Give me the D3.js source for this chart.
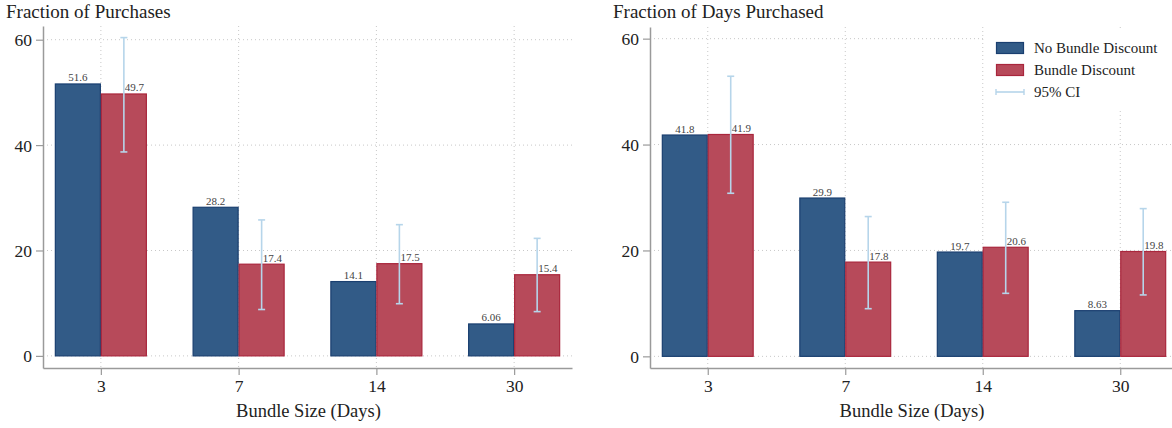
<!DOCTYPE html>
<html>
<head>
<meta charset="utf-8">
<script src="https://cdn.jsdelivr.net/npm/d3@7"></script>
<style>
  html, body { margin: 0; padding: 0; background: #fff; }
  svg, svg text { font-family: "Liberation Serif", "Times New Roman", serif; }
</style>
</head>
<body>
<svg id="chart" width="1172" height="428"></svg>
<script>
// Bundle sizes (days) on the x axis
const categories = ["3", "7", "14", "30"];
const seriesNames = ["No Bundle Discount", "Bundle Discount"];
const yTicks = [0, 20, 40, 60];

// Panel 1: fraction of purchases
const purchasesNoDiscount = [51.6, 28.2, 14.1, 6.06];
const purchasesDiscount = [49.7, 17.4, 17.5, 15.4];
const purchasesCiLow = [38.7, 8.8, 9.9, 8.4];
const purchasesCiHigh = [60.4, 25.8, 24.9, 22.3];

// Panel 2: fraction of days purchased
const daysNoDiscount = [41.8, 29.9, 19.7, 8.63];
const daysDiscount = [41.9, 17.8, 20.6, 19.8];
const daysCiLow = [30.8, 9.0, 11.9, 11.6];
const daysCiHigh = [52.9, 26.4, 29.1, 27.9];

const colors = {
  blueFill: "#325b87", blueStroke: "#1a3f70",
  redFill: "#b74a5a", redStroke: "#a9263c",
  ci: "#b6d5ea", axis: "#9a9a9a", grid: "#c8c8c8", text: "#222", label: "#444"
};
const serif = "'Liberation Serif', 'Times New Roman', serif";

const svg = d3.select("#chart");

function drawPanel(opts) {
  const g = svg.append("g");
  const x = d3.scalePoint().domain(categories).range([opts.x0, opts.x1]).padding(0.42);
  const y = d3.scaleLinear().domain(opts.yDomain).range([368, opts.yTop]);
  const step = x.step();
  const bw = step * 0.334;

  // dotted grid
  g.selectAll(".hgrid").data(yTicks).join("line")
    .attr("x1", opts.x0).attr("x2", opts.x1)
    .attr("y1", d => y(d)).attr("y2", d => y(d))
    .attr("stroke", colors.grid).attr("stroke-width", 1).attr("stroke-dasharray", "1,3");
  g.selectAll(".vgrid").data(categories).join("line")
    .attr("x1", d => x(d)).attr("x2", d => x(d))
    .attr("y1", opts.yTop).attr("y2", 368)
    .attr("stroke", colors.grid).attr("stroke-width", 1).attr("stroke-dasharray", "1,3");

  // legend background masks the grid beneath it
  if (opts.legend) {
    g.append("rect").attr("x", 985).attr("y", 30).attr("width", 190).attr("height", 78).attr("fill", "#fff");
  }

  // bars
  const rows = categories.map((c, i) => ({
    c, a: opts.noDisc[i], b: opts.disc[i], lo: opts.lo[i], hi: opts.hi[i]
  }));
  g.selectAll(".barA").data(rows).join("rect")
    .attr("x", d => x(d.c) - bw + 0.5).attr("width", bw - 1)
    .attr("y", d => y(d.a)).attr("height", d => y(0) - y(d.a))
    .attr("fill", colors.blueFill).attr("stroke", colors.blueStroke).attr("stroke-width", 1.2);
  g.selectAll(".barB").data(rows).join("rect")
    .attr("x", d => x(d.c) + 0.5).attr("width", bw - 1)
    .attr("y", d => y(d.b)).attr("height", d => y(0) - y(d.b))
    .attr("fill", colors.redFill).attr("stroke", colors.redStroke).attr("stroke-width", 1.2);

  // value labels
  g.selectAll(".labA").data(rows).join("text")
    .attr("x", d => x(d.c) - bw / 2).attr("y", d => y(d.a) - 2.5)
    .attr("text-anchor", "middle").attr("font-size", 11).attr("fill", colors.label)
    .style("font-family", serif).text(d => d.a);
  g.selectAll(".labB").data(rows).join("text")
    .attr("x", d => x(d.c) + bw / 2 + 1).attr("y", d => y(d.b) - 2.5)
    .attr("text-anchor", "start").attr("font-size", 11).attr("fill", colors.label)
    .style("font-family", serif).text(d => d.b);

  // 95% confidence intervals on the discount bars
  const ci = g.selectAll(".ci").data(rows).join("g")
    .attr("stroke", colors.ci).attr("stroke-width", 1.6);
  ci.append("line").attr("x1", d => x(d.c) + bw / 2).attr("x2", d => x(d.c) + bw / 2)
    .attr("y1", d => y(d.lo)).attr("y2", d => y(d.hi));
  ci.append("line").attr("x1", d => x(d.c) + bw / 2 - 3.5).attr("x2", d => x(d.c) + bw / 2 + 3.5)
    .attr("y1", d => y(d.lo)).attr("y2", d => y(d.lo));
  ci.append("line").attr("x1", d => x(d.c) + bw / 2 - 3.5).attr("x2", d => x(d.c) + bw / 2 + 3.5)
    .attr("y1", d => y(d.hi)).attr("y2", d => y(d.hi));

  // axes
  const yAxis = d3.axisLeft(y).tickValues(yTicks).tickSize(7).tickPadding(4).tickSizeOuter(0);
  const ya = g.append("g").attr("transform", `translate(${opts.x0},0)`).call(yAxis);
  const xAxis = d3.axisBottom(x).tickSize(7).tickPadding(5).tickSizeOuter(0);
  const xa = g.append("g").attr("transform", "translate(0,368)").call(xAxis);
  [ya, xa].forEach(a => {
    a.attr("font-family", null).attr("font-size", null);
    a.select(".domain").attr("stroke", colors.axis).attr("stroke-width", 1.5);
    a.selectAll(".tick line").attr("stroke", colors.axis).attr("stroke-width", 1.2);
    a.selectAll(".tick text").attr("font-size", 17.5).attr("fill", colors.text)
      .style("font-family", serif);
  });
  ya.selectAll(".tick text").attr("dy", "0.34em");

  // titles
  g.append("text").attr("x", opts.titleX).attr("y", 18).attr("font-size", 19)
    .attr("fill", colors.text).style("font-family", serif).text(opts.title);
  g.append("text").attr("x", (opts.x0 + Math.min(opts.x1, 1172)) / 2 + 1).attr("y", 417)
    .attr("text-anchor", "middle").attr("font-size", 18.5).attr("fill", colors.text)
    .style("font-family", serif).text("Bundle Size (Days)");

  if (opts.legend) {
    const lg = g.append("g");
    const items = [
      { name: seriesNames[0], fill: colors.blueFill, stroke: colors.blueStroke },
      { name: seriesNames[1], fill: colors.redFill, stroke: colors.redStroke },
      { name: "95% CI", ci: true }
    ];
    items.forEach((it, i) => {
      const cy = 48 + i * 22;
      if (it.ci) {
        lg.append("line").attr("x1", 996).attr("x2", 1024).attr("y1", cy).attr("y2", cy)
          .attr("stroke", colors.ci).attr("stroke-width", 1.6);
        [996, 1024].forEach(px => lg.append("line").attr("x1", px).attr("x2", px)
          .attr("y1", cy - 3).attr("y2", cy + 3).attr("stroke", colors.ci).attr("stroke-width", 1.4));
      } else {
        lg.append("rect").attr("x", 996.5).attr("y", cy - 5.5).attr("width", 27).attr("height", 11)
          .attr("fill", it.fill).attr("stroke", it.stroke).attr("stroke-width", 1.2);
      }
      lg.append("text").attr("x", 1034).attr("y", cy + 5).attr("font-size", 15)
        .attr("fill", colors.text).style("font-family", serif).text(it.name);
    });
  }
}

drawPanel({
  x0: 43, x1: 572, yTop: 26, yDomain: [-2.3, 62.6], titleX: 6,
  title: "Fraction of Purchases",
  noDisc: purchasesNoDiscount, disc: purchasesDiscount, lo: purchasesCiLow, hi: purchasesCiHigh
});
drawPanel({
  x0: 650, x1: 1178, yTop: 27, yDomain: [-2.2, 62.2], titleX: 613,
  title: "Fraction of Days Purchased", legend: true,
  noDisc: daysNoDiscount, disc: daysDiscount, lo: daysCiLow, hi: daysCiHigh
});
</script>
</body>
</html>
